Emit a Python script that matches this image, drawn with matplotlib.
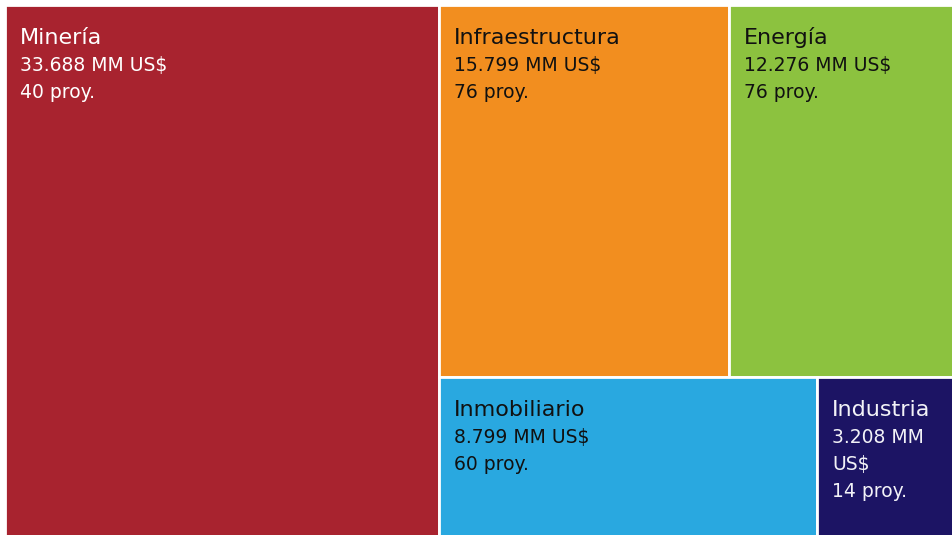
import matplotlib
matplotlib.use("Agg")
import matplotlib.pyplot as plt
from matplotlib.patches import Rectangle

sectors = ["Minería", "Infraestructura", "Energía", "Inmobiliario", "Industria"]
values = [33688, 15799, 12276, 8799, 3208]
value_labels = ["33.688 MM US$", "15.799 MM US$", "12.276 MM US$", "8.799 MM US$", "3.208 MM\nUS$"]
projects = [40, 76, 76, 60, 14]
colors = ["#A8232F", "#F28E1F", "#8CC23F", "#29A8E0", "#1C1464"]
text_colors = ["#FFFFFF", "#111111", "#111111", "#111111", "#F2F2F7"]

plt.rcParams['font.family'] = ['DejaVu Sans']

fig = plt.figure(figsize=(9.52, 5.35), dpi=100)
fig.patch.set_facecolor("#FFFFFF")
# plot area runs slightly past the right/bottom edge of the image
ax = fig.add_axes([5/952, -1/535, 950/952, 531/535])
ax.set_xlim(0, 1)
ax.set_ylim(1, 0)
ax.axis("off")

total = sum(values)
rects = []
w0 = values[0] / total
rects.append((0, 0, w0, 1))
rest = sum(values[1:])
top = values[1] + values[2]
bot = values[3] + values[4]
h_top = top / rest
rw = 1 - w0
w1 = rw * values[1] / top
rects.append((w0, 0, w1, h_top))
rects.append((w0 + w1, 0, rw - w1, h_top))
w3 = rw * values[3] / bot
rects.append((w0, h_top, w3, 1 - h_top))
rects.append((w0 + w3, h_top, rw - w3, 1 - h_top))

ax.add_patch(Rectangle((0, 0), 1, 1, facecolor="none", edgecolor="#E4E4E4", linewidth=2.5))
for i, (x, y, w, h) in enumerate(rects):
    ax.add_patch(Rectangle((x, y), w, h, facecolor=colors[i], edgecolor="white", linewidth=2))
    lines = [sectors[i]] + value_labels[i].split("\n") + [f"{projects[i]} proy."]
    for j, line in enumerate(lines):
        ax.annotate(line, xy=(x, y), xytext=(15, -(39 + 27 * j)), textcoords="offset pixels",
                    ha="left", va="baseline", color=text_colors[i],
                    fontsize=16 if j == 0 else 13.5)

fig.savefig("out.png", dpi=100)
